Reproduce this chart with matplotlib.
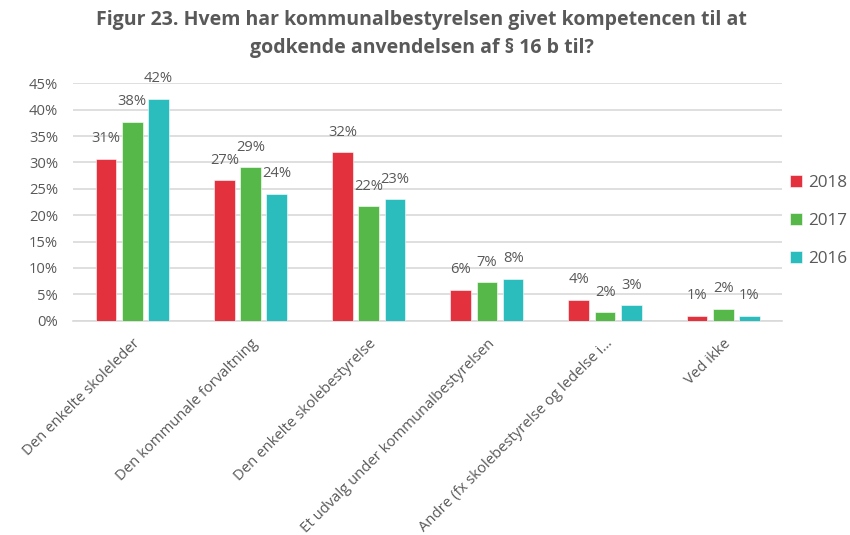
import matplotlib
matplotlib.use("Agg")
import matplotlib.pyplot as plt
import numpy as np
from matplotlib.ticker import FuncFormatter, MultipleLocator

categories = ["Den enkelte skoleleder", "Den kommunale forvaltning", "Den enkelte skolebestyrelse",
              "Et udvalg under kommunalbestyrelsen", "Andre (fx skolebestyrelse og ledelse i…", "Ved ikke"]
series_names = ["2018", "2017", "2016"]
v2018 = [30.7, 26.6, 31.9, 5.9, 4.0, 0.9]
v2017 = [37.7, 29.1, 21.7, 7.3, 1.6, 2.2]
v2016 = [42.0, 24.0, 23.0, 7.9, 2.9, 0.9]
labels2018 = ["31%", "27%", "32%", "6%", "4%", "1%"]
labels2017 = ["38%", "29%", "22%", "7%", "2%", "2%"]
labels2016 = ["42%", "24%", "23%", "8%", "3%", "1%"]
colors = ["#E3313E", "#57B84A", "#2BBDBD"]
title = "Figur 23. Hvem har kommunalbestyrelsen givet kompetencen til at\ngodkende anvendelsen af § 16 b til?"

plt.rcParams['font.family'] = ['Open Sans', 'DejaVu Sans']
txt = "#595959"

fig = plt.figure(figsize=(8.5, 5.35), dpi=100)
ax = fig.add_axes([0.0862, 0.4006, 0.8342, 0.4437])

x = np.arange(len(categories))
offsets = [-0.222, 0.0, 0.222]
width = 0.175
all_vals = [v2018, v2017, v2016]
all_labels = [labels2018, labels2017, labels2016]
for i, (vals, labs) in enumerate(zip(all_vals, all_labels)):
    bars = ax.bar(x + offsets[i], vals, width, color=colors[i], label=series_names[i],
                  edgecolor="white", linewidth=0.4, zorder=3)
    for b, lab in zip(bars, labs):
        ax.annotate(lab, (b.get_x() + b.get_width() / 2, b.get_height()),
                    xytext=(0, 14.5), textcoords="offset points", ha="center", va="center",
                    fontsize=10.6, color=txt)

ax.set_xlim(-0.5, len(categories) - 0.5)
ax.set_ylim(0, 45)
ax.yaxis.set_major_locator(MultipleLocator(5))
ax.yaxis.set_major_formatter(FuncFormatter(lambda v, p: f"{v:.0f}%"))
ax.grid(axis="y", color="#D9D9D9", linewidth=1.2, zorder=0)
ax.set_axisbelow(True)
for s in ["top", "right", "left"]:
    ax.spines[s].set_visible(False)
ax.spines["bottom"].set_color("#D9D9D9")
ax.spines["bottom"].set_linewidth(1.2)
ax.tick_params(axis="y", length=0, pad=11, labelsize=10.6, labelcolor=txt)
ax.tick_params(axis="x", length=0, pad=11, labelsize=10.7, labelcolor=txt)
ax.set_xticks(x)
ax.set_xticklabels(categories, rotation=45, ha="right", rotation_mode="anchor")

fig.text(0.496, 0.981, title, ha="center", va="top", fontsize=14, fontweight="bold",
         color=txt, linespacing=1.52)

fig.legend(*ax.get_legend_handles_labels(), loc="center left", bbox_to_anchor=(0.929, 0.587),
           bbox_transform=fig.transFigure, frameon=False, fontsize=12.3,
           labelcolor=txt, handlelength=0.72, handleheight=0.72, handletextpad=0.35,
           labelspacing=1.3, borderaxespad=0, borderpad=0)

fig.savefig("out.png", dpi=100)
